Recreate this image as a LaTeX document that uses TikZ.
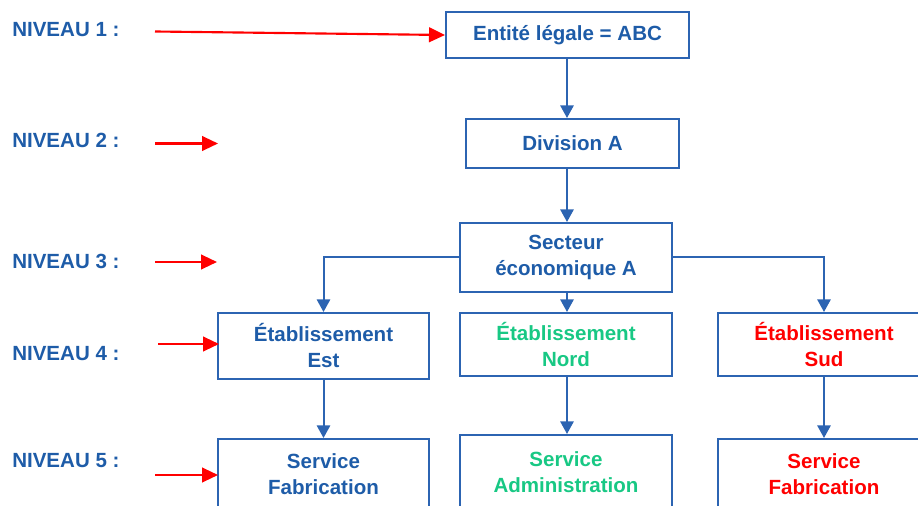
\documentclass[tikz,border=0pt]{standalone}
\usepackage{fontspec}
\setmainfont{Liberation Sans}
\usetikzlibrary{arrows.meta}
\definecolor{tblue}{RGB}{30,92,168}
\definecolor{lblue}{RGB}{44,100,178}
\definecolor{tgreen}{RGB}{24,200,132}
\definecolor{tred}{RGB}{255,0,0}
\begin{document}
\begin{tikzpicture}[x=0.75pt,y=-0.75pt,
  box/.style={draw=lblue,line width=1.5pt,fill=white,align=center,inner sep=0pt,
    font=\fontsize{15.4}{19.5}\selectfont\bfseries,text=tblue},
  lvl/.style={anchor=base west,inner sep=0pt,font=\fontsize{15.4}{19.5}\selectfont\bfseries,text=tblue},
  conn/.style={draw=lblue,line width=1.5pt,-{Triangle[width=10pt,length=9.5pt]}},
  redarr/.style={draw=tred,line width=1.6pt,-{Triangle[width=11pt,length=12pt]}}]
\useasboundingbox (0,0) rectangle (918,506);
\clip (0,0) rectangle (918,506);
% boxes
\node[box,minimum width=182.25pt,minimum height=34.5pt] (ent) at (567.5,35) {Entité légale = ABC};
\node[box,minimum width=159.75pt,minimum height=36.75pt] (div) at (572.5,143.5) {Division A};
\node[box,minimum width=159pt,minimum height=51.75pt] (sec) at (566,257.5) {Secteur\\économique A};
\node[box,minimum width=158.25pt,minimum height=49.5pt] (est) at (323.5,346) {Établissement\\Est};
\node[box,minimum width=159pt,minimum height=47.25pt,text=tgreen] (nord) at (566,344.5) {Établissement\\Nord};
\node[box,minimum width=159pt,minimum height=47.25pt,text=tred] (sud) at (824,344.5) {Établissement\\Sud};
\node[box,minimum width=158.25pt,minimum height=52.5pt] (sfe) at (323.5,474) {Service\\Fabrication};
\node[box,minimum width=159pt,minimum height=55.5pt,text=tgreen] (sad) at (566,472) {Service\\Administration};
\node[box,minimum width=159pt,minimum height=52.5pt,text=tred] (sfs) at (824,474) {Service\\Fabrication};
% trunk
\coordinate (trunk) at (567,0);
\draw[conn] (ent.south -| trunk) -- (div.north -| trunk);
\draw[conn] (div.south -| trunk) -- (sec.north -| trunk);
\draw[conn] (sec.south -| trunk) -- (nord.north -| trunk);
\draw[conn] (sec.west) -| (est.north);
\draw[conn] (sec.east) -| (sud.north);
\draw[conn] (est.south) -- (sfe.north);
\draw[conn] (nord.south -| trunk) -- (sad.north -| trunk);
\draw[conn] (sud.south) -- (sfs.north);
% level labels
\node[lvl] (n1) at (12,37) {NIVEAU 1 :};
\node[lvl] (n2) at (12,148) {NIVEAU 2 :};
\node[lvl] (n3) at (12,268) {NIVEAU 3 :};
\node[lvl] (n4) at (12,360) {NIVEAU 4 :};
\node[lvl] (n5) at (12,467) {NIVEAU 5 :};
% red arrows
\coordinate (r1s) at (155,31.5);
\coordinate (r2s) at (155,143.5);
\coordinate (r2e) at (218,143.5);
\coordinate (r3s) at (155,262);
\coordinate (r3e) at (217,262);
\coordinate (r4s) at (158,344);
\coordinate (r4e) at (219,344);
\coordinate (r5s) at (155,475);
\coordinate (r5e) at (218,475);
\draw[redarr] (r1s) -- (ent.west);
\draw[redarr] (r2s) -- (r2e);
\draw[redarr] (r3s) -- (r3e);
\draw[redarr] (r4s) -- (r4e);
\draw[redarr] (r5s) -- (r5e);
\end{tikzpicture}
\end{document}
